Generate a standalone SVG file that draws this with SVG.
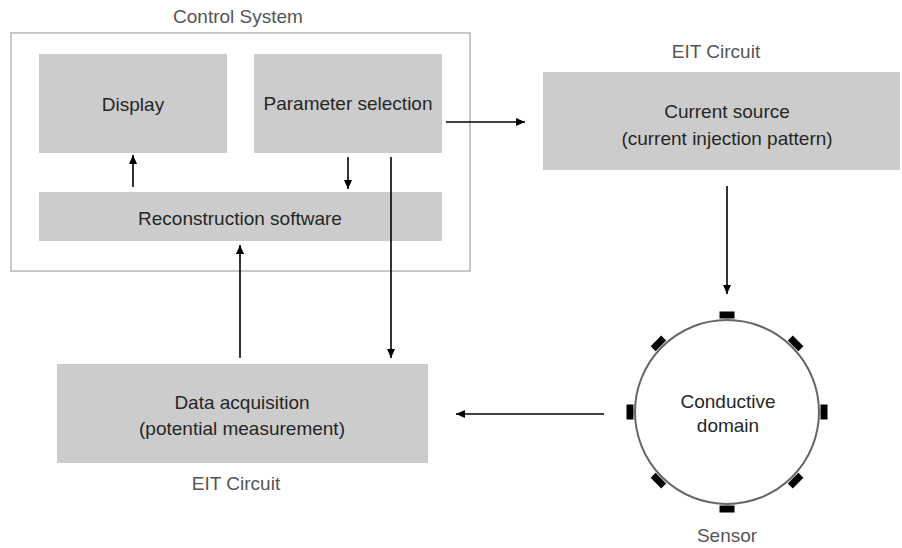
<svg xmlns="http://www.w3.org/2000/svg" width="902" height="548" viewBox="0 0 902 548">
<defs>
<style>
.box{fill:#cccccc}
.t{font-family:"Liberation Sans",Arial,Helvetica,sans-serif;font-size:19px;fill:#262626;text-anchor:middle}
.lbl{font-family:"Liberation Sans",Arial,Helvetica,sans-serif;font-size:19px;fill:#555555;text-anchor:middle}
.c{stroke:#000;stroke-width:1.6;fill:none;marker-end:url(#ah)}
.e{fill:#000}
</style>
<marker id="ah" markerUnits="userSpaceOnUse" markerWidth="9" markerHeight="8" refX="9" refY="4" orient="auto">
<path d="M0,0 L9,4 L0,8 z" fill="#000"/>
</marker>
</defs>
<rect width="902" height="548" fill="#ffffff"/>

<g id="control-system">
<rect x="11" y="33" width="459" height="238" fill="none" stroke="#c8c8c8" stroke-width="2"/>
<text class="lbl" x="238" y="23">Control System</text>
</g>

<g id="display">
<rect class="box" x="39" y="54" width="188" height="99"/>
<text class="t" x="133" y="111">Display</text>
</g>

<g id="parameter-selection">
<rect class="box" x="254" y="54" width="188" height="99"/>
<text class="t" x="348" y="110">Parameter selection</text>
</g>

<g id="reconstruction-software">
<rect class="box" x="39" y="192" width="403" height="49"/>
<text class="t" x="240" y="225">Reconstruction software</text>
</g>

<g id="current-source">
<rect class="box" x="543" y="72" width="357" height="98"/>
<text class="lbl" x="716" y="58">EIT Circuit</text>
<text class="t" x="727" y="118">Current source</text>
<text class="t" x="727" y="145">(current injection pattern)</text>
</g>

<g id="data-acquisition">
<rect class="box" x="57" y="364" width="371" height="99"/>
<text class="t" x="242" y="409">Data acquisition</text>
<text class="t" x="242" y="435">(potential measurement)</text>
<text class="lbl" x="236" y="490">EIT Circuit</text>
</g>

<g id="conductive-domain">
<circle cx="727" cy="412" r="92" fill="#ffffff" stroke="#666666" stroke-width="2"/>
<rect class="e" x="-7.5" y="-3.5" width="15" height="7" transform="translate(727 315)"/>
<rect class="e" x="-7.5" y="-3.5" width="15" height="7" transform="translate(727 509)"/>
<rect class="e" x="-7.5" y="-3.5" width="15" height="7" transform="translate(630 412) rotate(90)"/>
<rect class="e" x="-7.5" y="-3.5" width="15" height="7" transform="translate(824 412) rotate(90)"/>
<rect class="e" x="-7.5" y="-3.5" width="15" height="7" transform="translate(658.4 343.4) rotate(-45)"/>
<rect class="e" x="-7.5" y="-3.5" width="15" height="7" transform="translate(795.6 343.4) rotate(45)"/>
<rect class="e" x="-7.5" y="-3.5" width="15" height="7" transform="translate(658.4 480.6) rotate(45)"/>
<rect class="e" x="-7.5" y="-3.5" width="15" height="7" transform="translate(795.6 480.6) rotate(-45)"/>
<text class="t" x="728" y="408">Conductive</text>
<text class="t" x="728" y="432">domain</text>
<text class="lbl" x="727" y="542">Sensor</text>
</g>

<g id="connectors">
<line class="c" x1="446" y1="122" x2="525" y2="122"/>
<line class="c" x1="727" y1="186" x2="727" y2="294"/>
<line class="c" x1="604" y1="414" x2="456" y2="414"/>
<line class="c" x1="240" y1="358" x2="240" y2="245"/>
<line class="c" x1="391" y1="157" x2="391" y2="358"/>
<line class="c" x1="348" y1="157" x2="348" y2="189"/>
<line class="c" x1="133" y1="187" x2="133" y2="155"/>
</g>
</svg>
